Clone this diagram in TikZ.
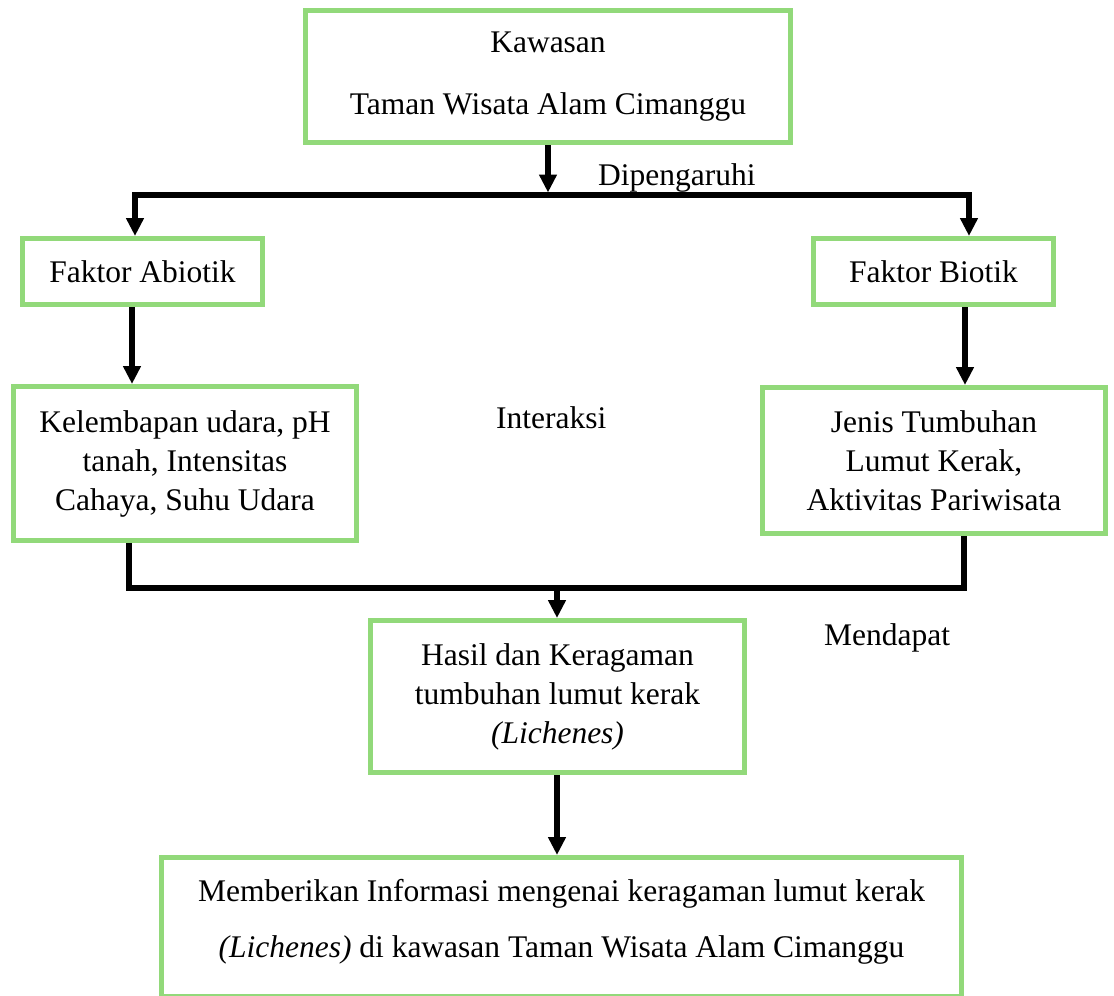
\documentclass[tikz,border=0pt]{standalone}
\usepackage{fontspec}
\setmainfont{Liberation Serif}
\usetikzlibrary{arrows.meta}
\definecolor{boxgreen}{RGB}{146,217,122}
\begin{document}
\begin{tikzpicture}[x=1pt,y=-1pt,
  gbox/.style={draw=boxgreen,line width=5pt,rectangle,inner sep=0pt,align=center,
    font=\rmfamily\fontsize{31.5}{39}\selectfont},
  lbl/.style={anchor=base west,inner sep=0pt,font=\rmfamily\fontsize{31.5}{39}\selectfont},
  conn/.style={line width=5.5pt,black},
  arr/.style={conn,-{Triangle[length=18pt,width=17pt]}}]
\useasboundingbox (0,0) rectangle (1114,996);
% boxes
\node[gbox,minimum width=485pt,minimum height=132pt] (top) at (548,76.5)
  {Kawasan\\[23pt]Taman Wisata Alam Cimanggu};
\node[gbox,minimum width=240pt,minimum height=66pt] (abio) at (142.5,271.5) {Faktor Abiotik};
\node[gbox,minimum width=240pt,minimum height=66pt] (bio) at (933.5,271.5) {Faktor Biotik};
\node[gbox,minimum width=343pt,minimum height=154pt] (kel) at (185,463.5)
  {Kelembapan udara, pH\\tanah, Intensitas\\Cahaya, Suhu Udara};
\node[gbox,minimum width=343pt,minimum height=146pt] (jen) at (934,460.5)
  {Jenis Tumbuhan\\Lumut Kerak,\\Aktivitas Pariwisata};
\node[gbox,minimum width=374pt,minimum height=152pt] (has) at (557.5,696.5)
  {Hasil dan Keragaman\\tumbuhan lumut kerak\\\textit{(Lichenes)}};
\node[gbox,minimum width=800pt,minimum height=139pt,text depth=17.5pt] (inf) at (561.5,927)
  {Memberikan Informasi mengenai keragaman lumut kerak\\[17pt]\textit{(Lichenes)} di kawasan Taman Wisata Alam Cimanggu};
% labels
\node[lbl] (dip) at (598,185) {Dipengaruhi};
\node[lbl] (int) at (496,428) {Interaksi};
\node[lbl] (men) at (824,645) {Mendapat};
% junction coordinates
\coordinate (j1) at (548,195);
\coordinate (jl) at (135,195);
\coordinate (jr) at (969,195);
\coordinate (kb) at (129,588);
\coordinate (jb) at (964,588);
\coordinate (j2) at (557,588);
% connectors
\draw[arr,shorten >=2.5pt] (top.south -| j1) -- (j1);
\draw[conn] ([xshift=-2.75pt]jl) -- ([xshift=2.75pt]jr);
\draw[arr] (jl) -- (abio.north -| jl);
\draw[arr] (jr) -- (bio.north -| jr);
\draw[arr] (abio.south -| 132,0) -- (kel.north -| 132,0);
\draw[arr] (bio.south -| 965,0) -- (jen.north -| 965,0);
\draw[conn] (kel.south -| kb) -- (kb) -- (jb) -- (jen.south -| jb);
\draw[arr] (j2) -- (has.north -| j2);
\draw[arr] (has.south -| j2) -- (inf.north -| j2);
\end{tikzpicture}
\end{document}
